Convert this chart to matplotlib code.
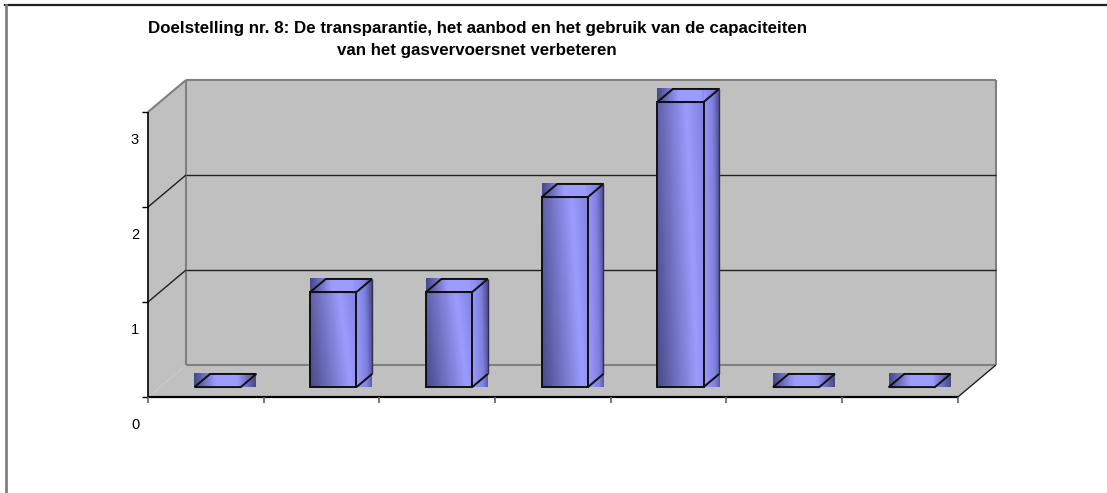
import numpy as np
import matplotlib
matplotlib.use("Agg")
import matplotlib.pyplot as plt
from matplotlib.patches import Polygon
from matplotlib.colors import LinearSegmentedColormap

plt.rcParams['font.family'] = ['Liberation Sans', 'DejaVu Sans']

# ---- data ----
categories = ["1", "2", "3", "4", "5", "6", "7"]
values = [0, 1, 1, 2, 3, 0, 0]
yticks = [0, 1, 2, 3]
title_line1 = "Doelstelling nr. 8: De transparantie, het aanbod en het gebruik van de capaciteiten"
title_line2 = "van het gasvervoersnet verbeteren"

# ---- figure / geometry ----
W, H = 1107, 493
fig = plt.figure(figsize=(W / 100, H / 100), dpi=100)
fig.patch.set_facecolor("white")

px_per_cat = 115.7
px_per_val = 95.0
x0_px, y0_px = 148, 397
ax = fig.add_axes([0, 0, 1, 1])
ax.set_xlim(-x0_px / px_per_cat, (W - x0_px) / px_per_cat)
ax.set_ylim(-(H - y0_px) / px_per_val, y0_px / px_per_val)
ax.axis("off")

n = len(categories)
ymax = max(yticks)
DX = 38 / px_per_cat   # depth offset (x) in data units
DY = 32 / px_per_val   # depth offset (y) in data units

def P(x, y, d):
    return (x + d * DX, y + d * DY)

wall = "#C0C0C0"
edge_gray = "#808080"

# side wall
ax.add_patch(Polygon([P(0, 0, 0), P(0, ymax, 0), P(0, ymax, 1), P(0, 0, 1)],
                     closed=True, fc=wall, ec="none", zorder=1))
# back wall
ax.add_patch(Polygon([P(0, 0, 1), P(0, ymax, 1), P(n, ymax, 1), P(n, 0, 1)],
                     closed=True, fc=wall, ec="none", zorder=1))
# floor
ax.add_patch(Polygon([P(0, 0, 0), P(n, 0, 0), P(n, 0, 1), P(0, 0, 1)],
                     closed=True, fc=wall, ec="none", zorder=1))

def line(a, b, **kw):
    ax.plot([a[0], b[0]], [a[1], b[1]], solid_capstyle="butt", **kw)

# wall edges (gray)
line(P(0, 0, 1), P(0, ymax, 1), color=edge_gray, lw=1.5, zorder=2)
line(P(0, ymax, 1), P(n, ymax, 1), color=edge_gray, lw=1.5, zorder=2)
line(P(n, ymax, 1), P(n, 0, 1), color=edge_gray, lw=1.5, zorder=2)
line(P(0, 0, 1), P(n, 0, 1), color=edge_gray, lw=1.5, zorder=2)
line(P(0, ymax, 0), P(0, ymax, 1), color=edge_gray, lw=1.5, zorder=2)

# gridlines
for v in yticks[1:-1]:
    line(P(0, v, 0), P(0, v, 1), color="#202020", lw=1.0, zorder=2)
    line(P(0, v, 1), P(n, v, 1), color="#202020", lw=1.0, zorder=2)

# floor right diagonal and front edges
line(P(n, 0, 0), P(n, 0, 1), color="#202020", lw=1.0, zorder=2)
line(P(0, 0, 0), P(n, 0, 0), color="black", lw=1.6, zorder=3)
line(P(0, 0, 0), P(0, ymax, 0), color="black", lw=1.2, zorder=3)

# ticks
tick_len_x = 6 / px_per_cat
tick_len_y = 6 / px_per_val
for v in yticks:
    line(P(-tick_len_x, v, 0), P(0, v, 0), color="black", lw=1.0, zorder=3)
    ax.text(-13 / px_per_cat, v - 0.29, str(v), ha="center", va="center",
            fontsize=10.5, color="black")
for k in range(n + 1):
    line(P(k, 0, 0), P(k, -tick_len_y, 0), color="#606060", lw=1.2, zorder=3)

# ---- bars ----
dark = np.array([0x48, 0x48, 0x88]) / 255
light = np.array([0x9C, 0x9C, 0xFF]) / 255
mid = np.array([0x80, 0x80, 0xE0]) / 255

front_cmap = LinearSegmentedColormap.from_list(
    "front", [(0, dark), (0.7, light), (1.0, mid)])
side_cmap = LinearSegmentedColormap.from_list(
    "side", [(0, light), (0.6, mid), (1.0, dark)])
top_cmap = LinearSegmentedColormap.from_list(
    "top", [(0, dark), (0.35, light), (0.7, light), (1.0, dark)])

def grad_rect(x1, x2, y1, y2, cmap, diag=0.25, z=4):
    nx, ny = 64, 64
    gx = np.linspace(0, 1, nx)[None, :]
    gy = np.linspace(0, 1, ny)[:, None]
    g = np.clip(gx * (1 - diag) + gy * diag, 0, 1)
    ax.imshow(g, cmap=cmap, extent=[x1, x2, y1, y2], origin="lower",
              aspect="auto", interpolation="bilinear", zorder=z)

bw = 0.4          # bar width in category units
d_front = 0.31    # bar front depth
d_back = 0.72     # bar back depth
for i, v in enumerate(values):
    xl = i + 0.5 - bw / 2
    xr = i + 0.5 + bw / 2
    fl = P(xl, 0, d_front)
    fr = P(xr, 0, d_front)
    tl = P(xl, v, d_front)
    tr = P(xr, v, d_front)
    bl_t = P(xl, v, d_back)
    br_t = P(xr, v, d_back)
    br_b = P(xr, 0, d_back)
    z = 4 + i * 0.01
    grad_rect(tl[0], br_t[0], tl[1], br_t[1], top_cmap, diag=0.0, z=z)
    if v > 0:
        grad_rect(fr[0], br_t[0], fr[1], br_t[1], side_cmap, diag=0.15, z=z)
        grad_rect(fl[0], fr[0], fl[1], tl[1], front_cmap, diag=0.2, z=z)
    ek = dict(color="#101010", lw=1.4, zorder=z + 0.005)
    ax.add_patch(Polygon([tl, tr, br_t, bl_t], closed=True, fc="none",
                         ec="#101010", lw=1.4, zorder=z + 0.005))
    if v > 0:
        ax.add_patch(Polygon([fl, fr, tr, tl], closed=True, fc="none",
                             ec="#101010", lw=1.4, zorder=z + 0.005))
        line(br_t, br_b, color="#303050", lw=1.0, zorder=z + 0.005)
        line(br_b, fr, **ek)

# ---- title ----
fig.text(477 / W, 1 - 28 / H, title_line1, ha="center", va="center",
         fontsize=12.2, fontweight="bold")
fig.text(477 / W, 1 - 50 / H, title_line2, ha="center", va="center",
         fontsize=12.2, fontweight="bold")

# ---- chart border ----
fig.add_artist(plt.Line2D([5 / W, 1], [1 - 4.5 / H, 1 - 4.5 / H],
                          transform=fig.transFigure, color="#202020", lw=1.6))
fig.add_artist(plt.Line2D([5.5 / W, 5.5 / W], [0, 1 - 4.5 / H],
                          transform=fig.transFigure, color="#808080", lw=2.0))

fig.savefig("out.png", dpi=100, facecolor="white")
